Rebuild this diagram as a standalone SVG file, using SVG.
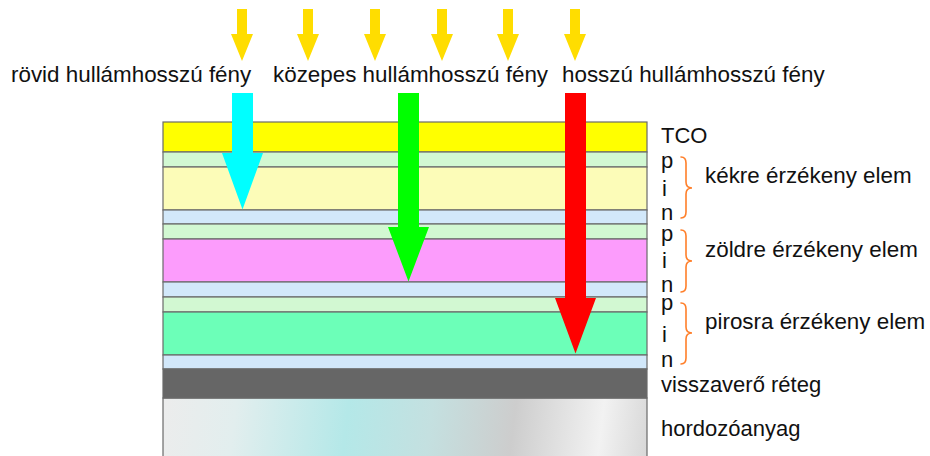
<svg xmlns="http://www.w3.org/2000/svg" width="930" height="456" viewBox="0 0 930 456">
<style>
text{font-family:"Liberation Sans",Arial,sans-serif;font-size:22px;fill:#111}
.big{font-size:22.4px}
.ly{stroke:#6a6a6a;stroke-width:1.2}
.brace{fill:none;stroke:#ff7f2a;stroke-width:1.6;stroke-linecap:round}
.ya{fill:#ffdd00}
</style>
<defs>
<linearGradient id="sub" x1="163" y1="398" x2="647" y2="456" gradientUnits="userSpaceOnUse">
<stop offset="0" stop-color="#ececec"/>
<stop offset="0.15" stop-color="#e2eeee"/>
<stop offset="0.38" stop-color="#b4e8e8"/>
<stop offset="0.55" stop-color="#c4e0e0"/>
<stop offset="0.72" stop-color="#cdcdcd"/>
<stop offset="0.9" stop-color="#f2f2f2"/>
<stop offset="1" stop-color="#d8d8d8"/>
</linearGradient>
<path id="yarrow" d="M-5,9 H5 V34 H11 L0,61 L-11,34 H-5 Z"/>
</defs>
<rect width="930" height="456" fill="#fff"/>

<g id="layers">
<rect id="substrate" class="ly" x="163" y="398" width="484" height="62" fill="url(#sub)"/>
<rect id="tco" class="ly" x="163" y="122" width="484" height="30" fill="#ffff00"/>
<rect id="p1" class="ly" x="163" y="152" width="484" height="15" fill="#d2f8d2"/>
<rect id="i1" class="ly" x="163" y="167" width="484" height="43" fill="#fcfcb8"/>
<rect id="n1" class="ly" x="163" y="210" width="484" height="14" fill="#d2e8fa"/>
<rect id="p2" class="ly" x="163" y="224" width="484" height="15" fill="#d2f8d2"/>
<rect id="i2" class="ly" x="163" y="239" width="484" height="43" fill="#fc9cfc"/>
<rect id="n2" class="ly" x="163" y="282" width="484" height="15" fill="#d2e8fa"/>
<rect id="p3" class="ly" x="163" y="297" width="484" height="15" fill="#d2f8d2"/>
<rect id="i3" class="ly" x="163" y="312" width="484" height="43" fill="#6cffb8"/>
<rect id="n3" class="ly" x="163" y="355" width="484" height="14" fill="#d2e8fa"/>
<rect id="reflector" class="ly" x="163" y="369" width="484" height="29" fill="#666666" stroke="#444"/>
</g>

<g id="incoming-light">
<use href="#yarrow" class="ya" x="242" y="0"/>
<use href="#yarrow" class="ya" x="308" y="0"/>
<use href="#yarrow" class="ya" x="375" y="0"/>
<use href="#yarrow" class="ya" x="442" y="0"/>
<use href="#yarrow" class="ya" x="508" y="0"/>
<use href="#yarrow" class="ya" x="575" y="0"/>
</g>

<g id="top-labels">
<text class="big" x="11" y="82">rövid hullámhosszú fény</text>
<text class="big" x="273" y="82">közepes hullámhosszú fény</text>
<text class="big" x="562" y="82">hosszú hullámhosszú fény</text>
</g>

<g id="colour-arrows">
<path id="blue-arrow" d="M232,93 H253 V153 H263 L242.5,209.5 L222,153 H232 Z" fill="#00ffff"/>
<path id="green-arrow" d="M398,93 H419 V227 H429 L408.5,281.5 L388,227 H398 Z" fill="#00ff00"/>
<path id="red-arrow" d="M565,93 H586 V298 H596 L575.5,353.5 L555,298 H565 Z" fill="#ff0000"/>
</g>

<g id="right-labels">
<text x="661" y="143">TCO</text>
<g id="pin1"><text x="661" y="168">p</text><text x="662" y="196">i</text><text x="661" y="220">n</text></g>
<g id="pin2"><text x="661" y="241">p</text><text x="662" y="268">i</text><text x="661" y="292">n</text></g>
<g id="pin3"><text x="661" y="310">p</text><text x="662" y="342">i</text><text x="661" y="367">n</text></g>
<text x="661" y="392">visszaverő réteg</text>
<text x="661" y="436">hordozóanyag</text>
</g>

<g id="braces">
<path class="brace" d="M681,157 Q686,157 686,163 V182 Q686,188 692,188 Q686,188 686,194 V212 Q686,218 681,218"/>
<path class="brace" d="M681,230 Q686,230 686,236 V255 Q686,261 692,261 Q686,261 686,267 V286 Q686,292 681,292"/>
<path class="brace" d="M681,303 Q686,303 686,309 V327 Q686,333 692,333 Q686,333 686,339 V358 Q686,364 681,364"/>
</g>

<g id="element-labels">
<text class="big" x="705" y="183">kékre érzékeny elem</text>
<text class="big" x="705" y="257">zöldre érzékeny elem</text>
<text class="big" x="705" y="329">pirosra érzékeny elem</text>
</g>
</svg>
